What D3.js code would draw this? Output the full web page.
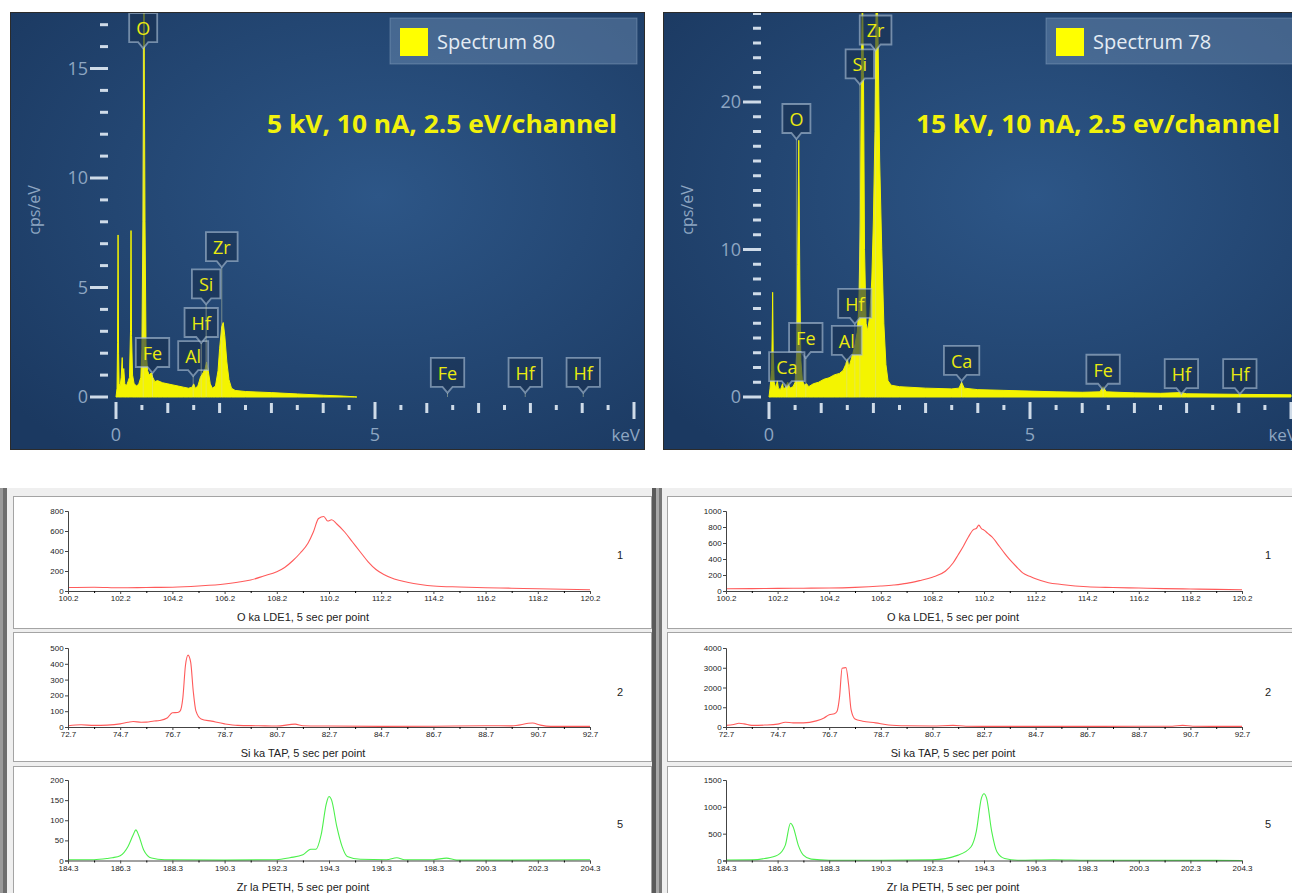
<!DOCTYPE html>
<html>
<head>
<meta charset="utf-8">
<script src="https://cdn.jsdelivr.net/npm/d3@7"></script>
<style>
  body { margin: 0; background: #fff; }
  svg { display: block; }
</style>
</head>
<body>
<div id="chart"></div>
<script>
// ---- EDS spectra, [keV, cps/eV] ----
const spec80 = [[0.00,0.0],[0.02,0.4],[0.03,2.5],[0.04,7.4],[0.05,2.0],[0.06,0.6],[0.08,0.5],[0.10,0.9],[0.12,1.8],[0.13,0.9],
  [0.15,1.3],[0.17,0.6],[0.20,0.5],[0.23,0.7],[0.26,0.9],[0.28,3.0],[0.29,7.6],[0.30,2.8],[0.32,1.0],[0.35,0.6],[0.40,0.5],
  [0.44,0.6],[0.48,0.9],[0.50,2.2],[0.52,8.0],[0.54,18.5],[0.56,8.0],[0.58,2.2],[0.61,1.2],[0.64,1.0],[0.68,1.1],[0.71,0.9],
  [0.75,0.7],[0.80,0.75],[0.90,0.65],[1.00,0.6],[1.10,0.55],[1.20,0.5],[1.30,0.45],[1.40,0.4],[1.47,0.45],[1.50,0.6],[1.53,0.4],
  [1.58,0.5],[1.63,0.9],[1.68,1.1],[1.72,1.3],[1.75,1.6],[1.78,1.2],[1.82,0.6],[1.86,0.4],[1.92,0.5],[1.97,1.2],[2.00,2.2],
  [2.04,3.2],[2.07,3.4],[2.10,2.8],[2.14,1.6],[2.18,0.8],[2.23,0.4],[2.30,0.3],[2.50,0.25],[3.00,0.2],[3.50,0.14],[4.00,0.08],
  [4.40,0.04],[4.60,0.01],[4.65,0]];

const spec78 = [[0.00,0.0],[0.02,0.6],[0.05,1.8],[0.06,4],[0.07,7.1],[0.08,3],[0.10,1.0],[0.13,0.6],[0.16,1.1],[0.18,0.6],
  [0.22,0.5],[0.26,0.9],[0.28,0.5],[0.32,0.7],[0.36,1.0],[0.40,0.6],[0.46,0.7],[0.50,1.0],[0.53,3],[0.55,9],[0.57,17.4],
  [0.59,8],[0.61,2.5],[0.64,1.1],[0.68,0.8],[0.72,0.9],[0.76,0.7],[0.85,0.9],[0.95,1.0],[1.05,1.2],[1.15,1.3],[1.25,1.5],
  [1.35,1.6],[1.42,1.8],[1.47,2.2],[1.50,2.6],[1.53,2.0],[1.57,2.5],[1.61,3.0],[1.65,3.6],[1.69,4.4],[1.72,6],[1.75,12],
  [1.77,22],[1.79,28],[1.81,22],[1.83,10],[1.86,5],[1.89,4.5],[1.93,5.5],[1.97,8],[2.00,12],[2.03,18],[2.06,30],[2.09,24],
  [2.12,16],[2.16,10],[2.20,5],[2.24,2.2],[2.28,1.1],[2.34,0.8],[2.50,0.7],[3.00,0.6],[3.50,0.55],[3.64,0.6],[3.69,1.0],
  [3.74,0.6],[4.00,0.5],[4.50,0.45],[5.00,0.4],[5.50,0.35],[6.00,0.32],[6.34,0.35],[6.40,0.7],[6.46,0.35],[7.00,0.28],
  [7.50,0.25],[7.90,0.3],[8.00,0.22],[9.00,0.18],[10.00,0.15]];

// element markers: [element, keV, marker height in cps/eV]
const markers80 = [["O",0.525,16.2],["Fe",0.705,1.37],["Al",1.49,1.23],["Hf",1.645,2.74],["Si",1.74,4.5],["Zr",2.042,6.2],
  ["Fe",6.40,0.46],["Hf",7.90,0.46],["Hf",9.02,0.46]];
const markers78 = [["O",0.525,17.9],["Zr",2.042,23.9],["Si",1.74,21.6],["Hf",1.645,5.36],["Fe",0.705,3.05],["Al",1.49,2.85],
  ["Ca",0.341,1.08],["Ca",3.69,1.5],["Fe",6.40,0.9],["Hf",7.90,0.6],["Hf",9.02,0.6]];

// ---- WDS scans, [spectrometer position, counts] ----
const oScan5kV = [[100.2,35],[101.2,38],[102.2,32],[103.2,35],[104.2,38],[105.2,50],[106.2,70],[106.7,88],[107.2,110],[107.7,150],
  [108.2,193],[108.5,235],[108.8,300],[109.1,380],[109.4,480],[109.6,590],[109.8,725],[110.0,745],[110.15,700],[110.3,712],
  [110.5,670],[110.8,590],[111.1,490],[111.4,390],[111.7,292],[112.0,215],[112.3,165],[112.7,120],[113.2,88],[113.7,65],
  [114.2,50],[115.2,40],[116.2,33],[117.2,28],[118.2,22],[119.2,18],[120.2,12]];
const oScan15kV = [[100.2,29],[101.2,30],[102.2,33],[103.2,35],[104.2,37],[105.2,45],[106.2,62],[106.7,75],[107.2,95],[107.7,130],
  [108.2,173],[108.7,247],[109.0,350],[109.2,453],[109.4,560],[109.6,679],[109.8,770],[109.9,782],[110.0,823],[110.1,780],
  [110.2,761],[110.35,720],[110.5,679],[110.8,556],[111.0,470],[111.2,391],[111.5,290],[111.7,226],[112.0,180],[112.2,152],
  [112.7,103],[113.2,82],[114.2,53],[115.2,44],[116.2,37],[117.2,30],[118.2,25],[119.2,20],[120.2,16]];
const siScan5kV = [[72.7,8],[73.2,14],[73.7,10],[74.2,12],[74.7,20],[75.0,30],[75.2,35],[75.5,30],[75.7,31],[76.0,38],[76.2,41],
  [76.5,57],[76.7,90],[76.9,92],[77.0,102],[77.1,184],[77.2,389],[77.3,455],[77.4,410],[77.5,225],[77.6,102],[77.8,51],
  [78.2,37],[78.7,20],[79.2,10],[80.0,8],[80.7,6],[81.4,18],[81.7,8],[82.7,6],[84.7,4],[86.7,5],[88.7,8],[89.7,7],[90.5,25],
  [90.8,12],[91.2,4],[92.0,4],[92.7,4]];
const siScan15kV = [[72.7,81],[73.0,130],[73.2,190],[73.4,160],[73.7,80],[74.2,98],[74.7,146],[75.0,244],[75.3,211],[75.7,211],
  [76.2,309],[76.5,455],[76.7,618],[76.9,667],[77.0,780],[77.1,1512],[77.2,2976],[77.35,3008],[77.45,2163],[77.55,862],
  [77.7,407],[78.0,293],[78.5,211],[79.0,98],[79.7,60],[80.7,49],[81.5,81],[82.0,40],[82.7,33],[84.7,30],[86.7,30],[88.7,35],
  [90.0,40],[90.4,81],[90.8,40],[91.5,33],[92.7,33]];
const zrScan5kV = [[184.3,2],[185.3,2],[185.8,5],[186.0,7],[186.3,12],[186.6,35],[186.8,64],[186.9,76],[187.0,64],[187.2,26],
  [187.5,6],[188.0,2],[190.3,1],[192.3,2],[192.8,7],[193.3,14],[193.6,28],[193.8,28],[194.0,64],[194.2,142],[194.3,159],
  [194.4,150],[194.6,84],[194.8,35],[195.0,10],[195.5,3],[196.5,2],[196.9,7],[197.2,2],[198.3,2],[198.8,6],[199.2,1],
  [201.3,1],[204.3,2]];
const zrScan15kV = [[184.3,10],[185.3,12],[185.8,37],[186.3,100],[186.6,287],[186.8,694],[186.9,631],[187.1,287],[187.3,100],
  [187.6,25],[188.3,5],[190.3,5],[192.3,12],[193.3,100],[193.8,256],[194.0,537],[194.2,1162],[194.3,1244],[194.4,1162],
  [194.6,537],[194.8,162],[195.1,37],[195.6,6],[197.0,15],[198.3,5],[199.0,5],[204.3,0]];

const W = 1292, H = 893;
const svg = d3.select("#chart").append("svg").attr("width", W).attr("height", H)
  .style("font-family", "'Open Sans', 'Noto Sans', sans-serif");
const defs = svg.append("defs");
const grad = defs.append("radialGradient").attr("id", "bg")
  .attr("cx", "58%").attr("cy", "42%").attr("r", "75%");
grad.append("stop").attr("offset", "0%").attr("stop-color", "#2d5687");
grad.append("stop").attr("offset", "100%").attr("stop-color", "#1b3961");

function drawEDS(cfg) {
  const p = cfg.panel;
  defs.append("clipPath").attr("id", "clip" + cfg.id)
    .append("rect").attr("x", p.x).attr("y", p.y).attr("width", p.w).attr("height", p.h);
  const g = svg.append("g").attr("clip-path", `url(#clip${cfg.id})`);
  g.append("rect").attr("x", p.x).attr("y", p.y).attr("width", p.w).attr("height", p.h)
    .attr("fill", "url(#bg)");

  const x = d3.scaleLinear().domain([0, 10]).range(cfg.xRange);
  const y = d3.scaleLinear().domain(cfg.yDomain).range(cfg.yRange);
  const x0 = x(0);

  // legend
  const lg = cfg.legend;
  g.append("rect").attr("x", lg.x).attr("y", lg.y).attr("width", lg.w).attr("height", 46)
    .attr("fill", "rgba(120,150,185,0.42)").attr("stroke", "rgba(170,190,215,0.35)");
  g.append("rect").attr("x", lg.x + 10).attr("y", lg.y + 10).attr("width", 28).attr("height", 28).attr("fill", "#ffff00");
  g.append("text").attr("x", lg.x + 47).attr("y", lg.y + 31).attr("font-size", 20).attr("fill", "#e4ecf4")
    .text(cfg.name);

  // beam conditions
  g.append("text").attr("x", cfg.cond.x).attr("y", 133).attr("font-size", 25).attr("font-weight", "bold")
    .attr("fill", "#f2f20c").attr("textLength", cfg.cond.len).attr("lengthAdjust", "spacingAndGlyphs")
    .text(cfg.cond.text);

  // y ticks: dashes every 1 cps/eV, longer ones with labels
  const yt = g.append("g");
  d3.range(0, cfg.yMinorMax + 1).forEach(v => {
    const major = v % cfg.yMajorStep === 0;
    yt.append("line").attr("x1", x0 - (major ? 26 : 16)).attr("x2", x0 - 8)
      .attr("y1", y(v)).attr("y2", y(v)).attr("stroke", "#cfdbe8").attr("stroke-width", 3);
    if (major) {
      yt.append("text").attr("x", x0 - 28).attr("y", y(v)).attr("dy", "0.35em").attr("text-anchor", "end")
        .attr("font-size", 18).attr("fill", "#8ea6c2").text(v);
    }
  });
  g.append("text").attr("transform", `translate(${p.x + 30},210) rotate(-90)`).attr("text-anchor", "middle")
    .attr("font-size", 16).attr("fill", "#8ea6c2").text("cps/eV");

  // x ticks every 0.5 keV
  d3.range(0, 10.01, 0.5).forEach(v => {
    const big = v % 5 === 0, whole = v % 1 === 0;
    const y1 = y(0) + (big ? 5 : whole ? 6 : 8), y2 = y(0) + (big ? 22 : whole ? 16 : 13);
    g.append("line").attr("x1", x(v)).attr("x2", x(v)).attr("y1", y1).attr("y2", y2)
      .attr("stroke", "#cfdbe8").attr("stroke-width", 3);
  });
  [0, 5].forEach(v => g.append("text").attr("x", x(v)).attr("y", 441).attr("text-anchor", "middle")
    .attr("font-size", 18).attr("fill", "#8ea6c2").text(v));
  g.append("text").attr("x", x(10) + 6).attr("y", 441).attr("text-anchor", "end")
    .attr("font-size", 17).attr("fill", "#8ea6c2").text("keV");

  // spectrum
  const area = d3.area().x(d => x(d[0])).y0(y(0)).y1(d => y(d[1]));
  g.append("path").datum(cfg.spec).attr("d", area).attr("fill", "#f4f400")
    .attr("stroke", "#f4f400").attr("stroke-width", 1);

  // element markers
  cfg.markers.forEach(([el, kev, lvl]) => {
    const cx = x(kev), b = y(lvl);
    const m = g.append("g");
    m.append("line").attr("x1", cx).attr("x2", cx).attr("y1", b + 6).attr("y2", y(0))
      .attr("stroke", "rgba(215,220,170,0.45)").attr("stroke-width", 1);
    const box = m.append("path");
    const t = m.append("text").attr("x", cx).attr("y", b - 7).attr("text-anchor", "middle")
      .attr("font-size", 18).attr("fill", "#eaea10").text(el);
    const hw = t.node().getComputedTextLength() / 2 + 7, top = b - 29;
    box.attr("d", `M${cx - hw},${top}H${cx + hw}V${b}H${cx + 5}L${cx},${b + 6}L${cx - 5},${b}H${cx - hw}Z`)
      .attr("fill", "rgba(24,48,80,0.62)").attr("stroke", "rgba(175,195,215,0.6)").attr("stroke-width", 1.8);
  });

  svg.append("rect").attr("x", p.x + 0.5).attr("y", p.y + 0.5).attr("width", p.w - 1).attr("height", p.h - 1)
    .attr("fill", "none").attr("stroke", "#2b2b2b");
}

drawEDS({id: "L", name: "Spectrum 80", spec: spec80, markers: markers80,
  panel: {x: 10, y: 12, w: 635, h: 438}, xRange: [116, 634], yDomain: [0, 15], yRange: [397, 68.5],
  yMinorMax: 17, yMajorStep: 5, legend: {x: 390, y: 18, w: 247},
  cond: {x: 267, len: 350, text: "5 kV, 10 nA, 2.5 eV/channel"}});
drawEDS({id: "R", name: "Spectrum 78", spec: spec78, markers: markers78,
  panel: {x: 663, y: 12, w: 640, h: 438}, xRange: [769, 1291], yDomain: [0, 20], yRange: [397, 102],
  yMinorMax: 26, yMajorStep: 10, legend: {x: 1046, y: 18, w: 260},
  cond: {x: 916, len: 364, text: "15 kV, 10 nA, 2.5 ev/channel"}});

// ---- lower half: WDS scan windows ----
svg.append("rect").attr("x", 0).attr("y", 488).attr("width", W).attr("height", H - 488).attr("fill", "#efefef");
svg.append("rect").attr("x", 0).attr("y", 488).attr("width", 3).attr("height", H - 488).attr("fill", "#9a9a9a");
svg.append("rect").attr("x", 3).attr("y", 488).attr("width", 4).attr("height", H - 488).attr("fill", "#6e6e6e");
svg.append("rect").attr("x", 652).attr("y", 488).attr("width", 4).attr("height", H - 488).attr("fill", "#5a5a5a");
svg.append("rect").attr("x", 656).attr("y", 488).attr("width", 3).attr("height", H - 488).attr("fill", "#a8a8a8");
svg.append("rect").attr("x", 659).attr("y", 488).attr("width", 3).attr("height", H - 488).attr("fill", "#777");

const rows = [
  {top: 496, bot: 628, y0: 591, y1: 511, xDom: [100.2, 120.2], title: "O ka LDE1, 5 sec per point", num: "1", color: "#ff5a5a",
   left: {data: oScan5kV, yMax: 800, yStep: 200}, right: {data: oScan15kV, yMax: 1000, yStep: 200}},
  {top: 632, bot: 761, y0: 727, y1: 648, xDom: [72.7, 92.7], title: "Si ka TAP, 5 sec per point", num: "2", color: "#ff5a5a",
   left: {data: siScan5kV, yMax: 500, yStep: 100}, right: {data: siScan15kV, yMax: 4000, yStep: 1000}},
  {top: 766, bot: 896, y0: 860.5, y1: 780, xDom: [184.3, 204.3], title: "Zr la PETH, 5 sec per point", num: "5", color: "#4cf04c",
   left: {data: zrScan5kV, yMax: 200, yStep: 50}, right: {data: zrScan15kV, yMax: 1500, yStep: 500}}
];
const cols = [
  {key: "left", boxX: 13, boxW: 638, x0: 68, x1: 590, titleX: 303, numX: 620},
  {key: "right", boxX: 667, boxW: 630, x0: 726, x1: 1242, titleX: 953, numX: 1268}
];

rows.forEach(r => cols.forEach(c => {
  const s = r[c.key];
  const g = svg.append("g").style("font-family", "'Liberation Sans', Arial, sans-serif");
  g.append("rect").attr("x", c.boxX + 0.5).attr("y", r.top + 0.5).attr("width", c.boxW).attr("height", r.bot - r.top)
    .attr("fill", "#fff").attr("stroke", "#a4a4a4");

  const x = d3.scaleLinear().domain(r.xDom).range([c.x0, c.x1]);
  const y = d3.scaleLinear().domain([0, s.yMax]).range([r.y0, r.y1]);

  const line = d3.line().x(d => x(d[0])).y(d => y(d[1])).curve(d3.curveMonotoneX);
  g.append("path").datum(s.data).attr("d", line).attr("fill", "none")
    .attr("stroke", r.color).attr("stroke-width", 1.1);

  const majors = d3.range(0, 11).map(i => +(r.xDom[0] + 2 * i).toFixed(1));
  const minors = d3.range(0, 10).map(i => r.xDom[0] + 2 * i + 1);
  const xa = g.append("g").attr("transform", `translate(0,${r.y0})`)
    .call(d3.axisBottom(x).tickValues(majors).tickSize(3).tickFormat(d3.format(".1f")));
  g.append("g").attr("transform", `translate(0,${r.y0})`)
    .call(d3.axisBottom(x).tickValues(minors).tickSize(2).tickFormat(""))
    .select(".domain").remove();
  const ya = g.append("g").attr("transform", `translate(${c.x0},0)`)
    .call(d3.axisLeft(y).tickValues(d3.range(0, s.yMax + 1, s.yStep)).tickSize(3).tickFormat(d3.format("d")));
  [xa, ya].forEach(a => {
    a.selectAll("text").attr("font-size", 8).attr("fill", "#222").attr("font-family", "'Liberation Sans', Arial, sans-serif");
    a.selectAll("line,path").attr("stroke", "#444");
  });
  xa.selectAll("text").attr("dy", "0.5em");
  ya.selectAll("text").attr("dx", "0.2em");

  g.append("text").attr("x", c.titleX).attr("y", r.y0 + 30).attr("text-anchor", "middle")
    .attr("font-size", 11).attr("fill", "#222").text(r.title);
  g.append("text").attr("x", c.numX).attr("y", (r.y0 + r.y1) / 2 + 8).attr("text-anchor", "middle")
    .attr("font-size", 11).attr("fill", "#222").text(r.num);
}));
</script>
</body>
</html>
